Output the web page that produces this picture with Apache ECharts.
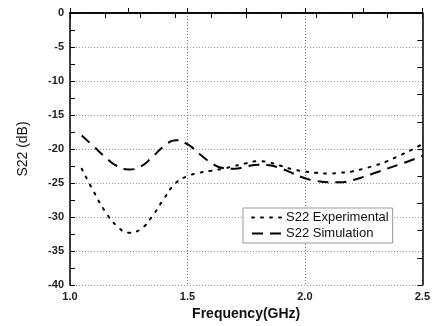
<!DOCTYPE html>
<html><head><meta charset="utf-8">
<script src="https://cdn.jsdelivr.net/npm/echarts@6/dist/echarts.min.js"></script>
<style>html,body{margin:0;padding:0;background:#fff}#c{width:433px;height:326px}</style>
</head><body><div id="c"></div>
<script>
const freq = [1.05,1.10,1.15,1.20,1.25,1.30,1.35,1.40,1.45,1.50,1.55,1.60,1.65,1.70,1.75,1.80,1.85,1.90,1.95,2.00,2.05,2.10,2.15,2.20,2.25,2.30,2.35,2.40,2.45,2.50];
const simulation = [-18.0,-19.6,-21.2,-22.5,-23.0,-22.6,-21.2,-19.6,-18.7,-19.3,-20.7,-22.0,-22.8,-22.9,-22.6,-22.3,-22.4,-22.9,-23.6,-24.3,-24.7,-24.9,-24.9,-24.6,-24.1,-23.5,-22.9,-22.3,-21.7,-21.0];
const experimental = [-22.9,-26.2,-29.2,-31.3,-32.3,-31.8,-29.9,-27.3,-25.0,-24.0,-23.5,-23.2,-22.9,-22.5,-22.1,-21.8,-22.0,-22.5,-23.0,-23.3,-23.5,-23.6,-23.5,-23.3,-22.9,-22.4,-21.8,-21.0,-20.2,-19.3];
const seriesNames = ['S22 Experimental','S22 Simulation'];

const font = 'Liberation Sans, Arial, sans-serif';
const chart = echarts.init(document.getElementById('c'));
const grid = {left:70, right:8, top:13, bottom:39};
const axisLine = {show:true, lineStyle:{color:'#000', width:1.5}};
chart.setOption({
  animation:false,
  grid: grid,
  legend: {
    data: seriesNames, orient:'vertical', left:243, top:208,
    padding:[3,4,3,8], itemGap:3, itemWidth:32, itemHeight:12,
    borderColor:'#999', borderWidth:1, backgroundColor:'#fff',
    itemStyle:{color:'rgba(0,0,0,0)', borderWidth:0, opacity:0},
    textStyle:{fontFamily:font, fontSize:13, color:'#111', padding:[0,0,0,-3]}
  },
  xAxis: [{
    type:'value', min:1, max:2.5, interval:0.5, position:'bottom',
    axisLine: axisLine,
    axisTick:{show:true, inside:true, length:5, lineStyle:{color:'#000'}},
    minorTick:{show:true, splitNumber:2, length:5, lineStyle:{color:'#000'}},
    axisLabel:{fontFamily:font, fontWeight:'bold', fontSize:11, color:'#222', margin:6,
      formatter: v => v.toFixed(1)},
    splitLine:{show:true, lineStyle:{color:'#777', type:[1,2], width:1}},
    name:'Frequency(GHz)', nameLocation:'middle', nameGap:22,
    nameTextStyle:{fontFamily:font, fontWeight:'bold', fontSize:14, color:'#111'}
  },{
    type:'value', min:1, max:2.5, interval:0.15, position:'top',
    axisLine: axisLine,
    axisTick:{show:true, inside:true, length:5, lineStyle:{color:'#000'}},
    axisLabel:{show:false}, splitLine:{show:false}
  }],
  yAxis: [{
    type:'value', min:-40, max:0, interval:5, position:'left',
    axisLine: axisLine,
    axisTick:{show:true, inside:true, length:5, lineStyle:{color:'#000'}},
    minorTick:{show:true, splitNumber:2, length:5, lineStyle:{color:'#000'}},
    axisLabel:{fontFamily:font, fontWeight:'bold', fontSize:11, color:'#222', margin:6},
    splitLine:{show:true, lineStyle:{color:'#999', type:[1,2], width:1}},
    name:'S22 (dB)', nameLocation:'middle', nameGap:40, nameRotate:90,
    nameTextStyle:{fontFamily:font, fontSize:14, color:'#111'}
  },{
    type:'value', min:-40, max:0, interval:4, position:'right',
    axisLine: axisLine,
    axisTick:{show:true, inside:true, length:5, lineStyle:{color:'#000'}},
    axisLabel:{show:false}, splitLine:{show:false}
  }],
  series: [{
    name: seriesNames[0], type:'line', smooth:true, symbol:'none',
    data: freq.map((f,i)=>[f, experimental[i]]),
    lineStyle:{color:'#000', width:2, type:[2,7], cap:'round'}, itemStyle:{color:'#000'}
  },{
    name: seriesNames[1], type:'line', smooth:true, symbol:'none',
    data: freq.map((f,i)=>[f, simulation[i]]),
    lineStyle:{color:'#000', width:2, type:[11,7]}, itemStyle:{color:'#000'}
  }]
});
</script></body></html>
